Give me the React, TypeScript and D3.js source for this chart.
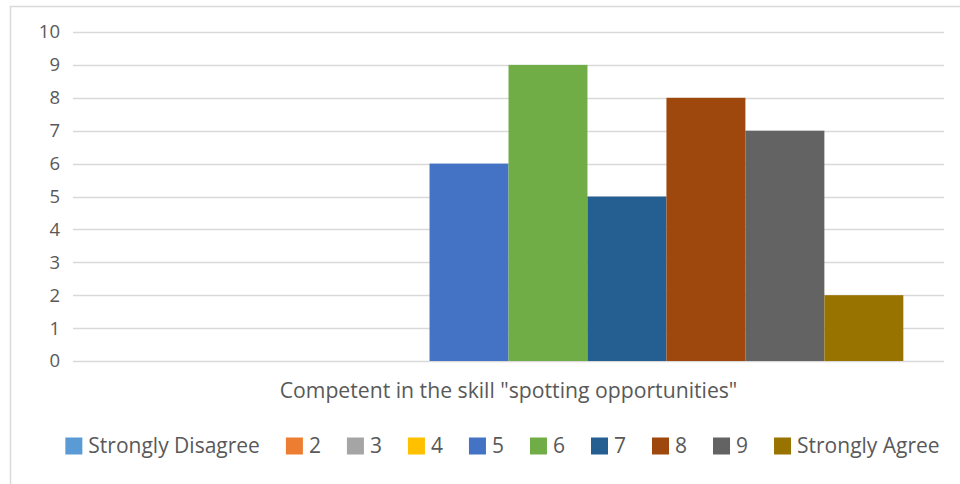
import React, { useEffect, useRef } from "react";
import * as d3 from "d3";

const seriesNames = ["Strongly Disagree", "2", "3", "4", "5", "6", "7", "8", "9", "Strongly Agree"];
const seriesValues = [0, 0, 0, 0, 6, 9, 5, 8, 7, 2];
const seriesColors = ["#5B9BD5", "#ED7D31", "#A5A5A5", "#FFC000", "#4472C4", "#70AD47", "#255E91", "#9E480E", "#636363", "#997300"];
const categoryLabel = 'Competent in the skill "spotting opportunities"';
const yTicks = [0, 1, 2, 3, 4, 5, 6, 7, 8, 9, 10];

const W = 960;
const H = 484;
const FONT = "'Open Sans', sans-serif";
const TEXT = "#595959";

export default function App() {
  const ref = useRef<SVGSVGElement | null>(null);

  useEffect(() => {
    const svg = d3.select(ref.current);
    svg.selectAll("*").remove();

    const plot = { left: 73, right: 944, top: 32, bottom: 361 };

    // outer chart border
    svg.append("rect")
      .attr("x", 10.5).attr("y", 6.5)
      .attr("width", W + 20).attr("height", H + 20)
      .attr("fill", "#fff").attr("stroke", "#D9D9D9").attr("stroke-width", 1.5);

    const y = d3.scaleLinear().domain([0, 10]).range([plot.bottom, plot.top]);
    const x0 = d3.scaleBand().domain([categoryLabel]).range([plot.left, plot.right]).paddingInner(0).paddingOuter(0);
    const bandW = x0.bandwidth();
    const barW = bandW / (seriesNames.length + 1.03);
    const gap = (bandW - barW * seriesNames.length) / 2;
    const x1 = d3.scaleBand().domain(seriesNames).range([gap, bandW - gap]).padding(0);

    // gridlines
    svg.append("g").selectAll("line").data(yTicks).join("line")
      .attr("x1", plot.left).attr("x2", plot.right)
      .attr("y1", (d) => Math.round(y(d)) + 0.5).attr("y2", (d) => Math.round(y(d)) + 0.5)
      .attr("stroke", "#D9D9D9").attr("stroke-width", 1.3);

    // tick labels
    svg.append("g").selectAll("text").data(yTicks).join("text")
      .attr("x", 60).attr("y", (d) => y(d))
      .attr("dy", "0.35em")
      .attr("text-anchor", "end")
      .attr("font-family", FONT).attr("font-size", 18.5).attr("fill", TEXT)
      .text((d) => String(d));

    // bars
    const g = svg.append("g").attr("transform", `translate(${x0(categoryLabel)},0)`);
    g.selectAll("rect").data(seriesNames).join("rect")
      .attr("x", (d) => x1(d) as number)
      .attr("width", x1.bandwidth())
      .attr("y", (d, i) => y(seriesValues[i]))
      .attr("height", (d, i) => y(0) - y(seriesValues[i]))
      .attr("fill", (d, i) => seriesColors[i]);

    // category label
    svg.append("text")
      .attr("x", (x0(categoryLabel) as number) + bandW / 2)
      .attr("y", 391).attr("dy", "0.35em")
      .attr("text-anchor", "middle")
      .attr("font-family", FONT).attr("font-size", 21.2).attr("fill", TEXT)
      .text(categoryLabel);

    // legend
    const sq = 17;
    const sqGap = 6;
    const itemGap = 26;
    const legendCenter = 502.5;
    const legendY = 446;
    const lg = svg.append("g");
    const items = lg.selectAll("g").data(seriesNames).join("g");
    items.append("rect").attr("width", sq).attr("height", sq).attr("y", legendY - sq / 2)
      .attr("fill", (d, i) => seriesColors[i]);
    const texts = items.append("text")
      .attr("x", sq + sqGap).attr("y", legendY).attr("dy", "0.35em")
      .attr("font-family", FONT).attr("font-size", 21).attr("fill", TEXT)
      .text((d) => d);
    const widths: number[] = [];
    texts.each(function () {
      widths.push((this as SVGTextElement).getComputedTextLength());
    });
    const itemWidths = widths.map((w) => sq + sqGap + w);
    const total = d3.sum(itemWidths) + itemGap * (seriesNames.length - 1);
    let cx = legendCenter - total / 2;
    const offsets: number[] = [];
    itemWidths.forEach((w) => {
      offsets.push(cx);
      cx += w + itemGap;
    });
    items.attr("transform", (d, i) => `translate(${offsets[i]},0)`);
  }, []);

  return (
    <svg
      ref={ref}
      width={W}
      height={H}
      style={{ position: "absolute", left: 0, top: 0, background: "#fff" }}
    />
  );
}
